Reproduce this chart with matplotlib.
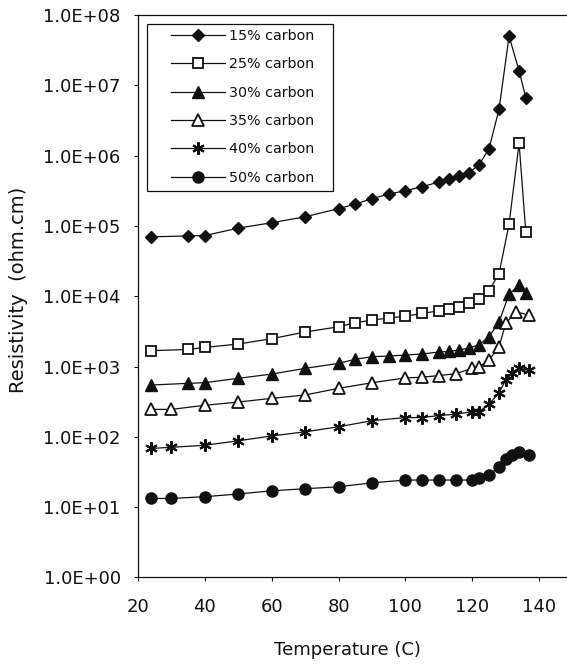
import matplotlib
matplotlib.use("Agg")
import matplotlib.pyplot as plt
from matplotlib.patches import Rectangle
from matplotlib.ticker import FixedLocator, NullLocator, FuncFormatter

# Temperatures (C) and resistivity (ohm.cm)
temp_a = [24, 35, 40, 50, 60, 70, 80, 85, 90, 95, 100, 105, 110, 113, 116,
          119, 122, 125, 128, 131, 134, 136]
temp_b = [24, 30, 40, 50, 60, 70, 80, 90, 100, 105, 110, 115, 120, 122, 125,
          128, 130, 133, 137]
temp_c = [24, 30, 40, 50, 60, 70, 80, 90, 100, 105, 110, 115, 120, 122, 125,
          128, 130, 132, 134, 137]

c15 = [7.0e4, 7.2e4, 7.3e4, 9.3e4, 1.11e5, 1.35e5, 1.76e5, 2.05e5, 2.44e5,
       2.84e5, 3.17e5, 3.61e5, 4.21e5, 4.6e5, 5.13e5, 5.71e5, 7.4e5, 1.25e6,
       4.56e6, 5.0e7, 1.6e7, 6.7e6]
c25 = [1680, 1750, 1870, 2090, 2490, 3100, 3680, 4200, 4580, 4900, 5200,
       5700, 6200, 6600, 7100, 7900, 9200, 1.2e4, 2.1e4, 1.06e5, 1.5e6, 8.3e4]
c30 = [546, 577, 590, 680, 782, 942, 1110, 1270, 1380, 1410, 1460, 1510,
       1610, 1640, 1720, 1830, 2040, 2650, 4300, 1.07e4, 1.44e4, 1.12e4]
c35 = [246, 246, 281, 313, 353, 394, 490, 589, 690, 705, 745, 790, 942, 993,
       1240, 1900, 4100, 6000, 5400]
c40 = [68.5, 71, 76, 88, 103, 118, 139, 170, 188, 188, 201, 210, 228, 228,
       290, 427, 640, 810, 955, 880]
c50 = [13.3, 13.3, 14.1, 15.4, 17.1, 18.3, 19.5, 22.2, 24.3, 24.3, 24.3,
       24.3, 24.3, 25.6, 28.6, 37.6, 47.9, 55, 61, 56]

labels = ["15% carbon", "25% carbon", "30% carbon", "35% carbon",
          "40% carbon", "50% carbon"]
ink = "#111111"

fig = plt.figure(figsize=(5.67, 6.66), dpi=100)
ax = fig.add_axes([0.2434, 0.1329, 0.8254, 0.8446])

line_kw = dict(color=ink, lw=0.9, markeredgecolor=ink)
ax.plot(temp_a, c15, marker="D", ms=6.5, mfc=ink, label=labels[0], **line_kw)
ax.plot(temp_a, c25, marker="s", ms=7.5, mfc="white", mew=1.3,
        label=labels[1], **line_kw)
ax.plot(temp_a, c30, marker="^", ms=8.5, mfc=ink, label=labels[2], **line_kw)
ax.plot(temp_b, c35, marker="^", ms=8.5, mfc="white", mew=1.3,
        label=labels[3], **line_kw)
ax.plot(temp_c, c40, marker=(6, 2, 0), ms=9, mew=1.5, label=labels[4],
        **line_kw)
ax.plot(temp_c, c50, marker="o", ms=8, mfc=ink, label=labels[5], **line_kw)

ax.set_yscale("log")
ax.set_ylim(1, 1e8)
ax.set_xlim(20, 160)
ax.yaxis.set_major_locator(FixedLocator([10.0 ** k for k in range(9)]))
ax.yaxis.set_minor_locator(NullLocator())
ax.yaxis.set_major_formatter(FuncFormatter(lambda v, p: "%.1E" % v))
ax.set_xticks([20, 40, 60, 80, 100, 120, 140])

ax.tick_params(axis="both", direction="out", length=3, width=0.8,
               labelsize=13, colors=ink)
ax.tick_params(axis="y", pad=9.5)
ax.tick_params(axis="x", pad=12)
for side in ["left", "bottom", "top"]:
    ax.spines[side].set_linewidth(0.9)
    ax.spines[side].set_color(ink)
ax.spines["right"].set_visible(False)

ax.set_ylabel("Resistivity  (ohm.cm)", fontsize=14, color=ink)
ax.yaxis.set_label_coords(-0.235, 0.511)
ax.set_xlabel("Temperature (C)", fontsize=13, color=ink)
ax.xaxis.set_label_coords(0.4466, -0.113)

# legend frame drawn separately so the entries can sit further right
ax.add_patch(Rectangle((0.0192, 0.687), 0.397, 0.297, transform=ax.transAxes,
                       fill=False, edgecolor=ink, lw=0.9, zorder=5))
leg = ax.legend(loc="upper left", bbox_to_anchor=(0.0705, 0.975),
                borderaxespad=0, borderpad=0, fontsize=10.3, numpoints=1,
                handlelength=3.75, handletextpad=0.3, labelspacing=1.0,
                frameon=False)
for t in leg.get_texts():
    t.set_color(ink)

fig.savefig("out.png", dpi=100)
